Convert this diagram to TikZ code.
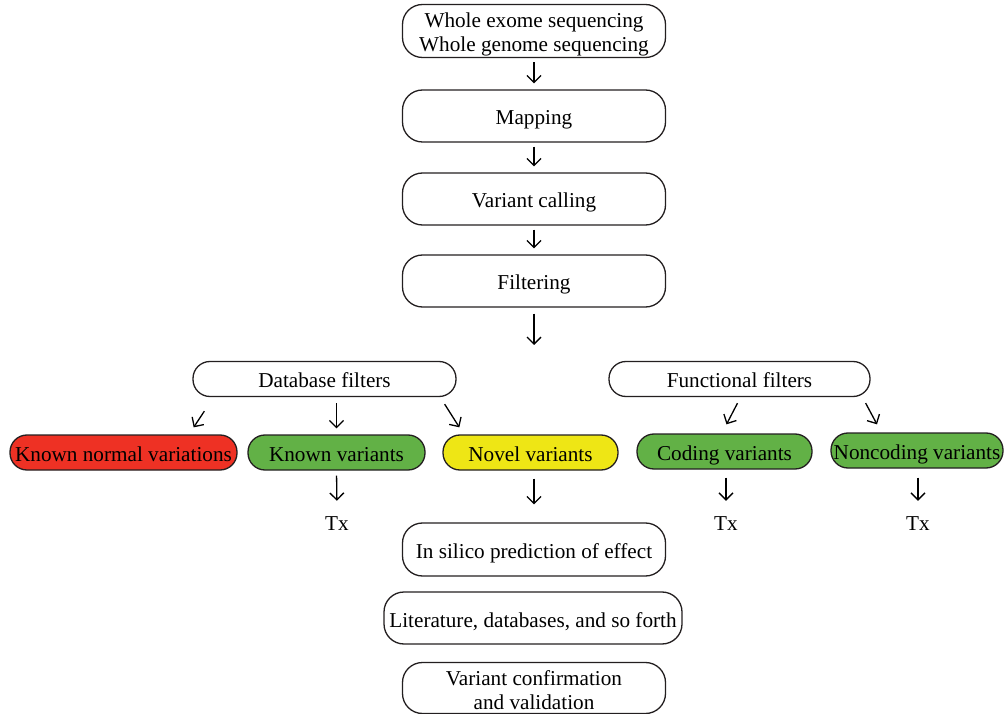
\documentclass[tikz,border=0pt]{standalone}
\usepackage{fontspec}
\setmainfont{Liberation Serif}
\usetikzlibrary{arrows.meta}
\definecolor{redbox}{HTML}{EE3124}
\definecolor{greenbox}{HTML}{62B146}
\definecolor{yellowbox}{HTML}{EEE615}
\definecolor{edge}{HTML}{231F20}
\newcommand{\topstrut}{\rule{0pt}{21pt}}
\newcommand{\botstrut}{\rule[-3pt]{0pt}{3pt}}
\tikzset{
  every node/.style={font=\fontsize{21.2}{24}\selectfont, inner sep=0pt, text=black},
  oneline/.style={text height=21pt, text depth=3pt},
  bigbox/.style={draw=edge, line width=1.3pt, rounded corners=20pt, minimum width=263pt, minimum height=52pt, align=center},
  pill/.style={draw=edge, line width=1.3pt, rounded corners=17pt, minimum height=35pt, align=center, oneline},
  arr/.style={draw=black, line width=1.3pt, -{Straight Barb[length=7pt,width=14pt,line width=1.3pt]}},
  lbl/.style={oneline}
}
\begin{document}
\begin{tikzpicture}[x=1pt,y=-1pt]
\useasboundingbox (0,0) rectangle (1005,714);
% main chain
\node[bigbox, minimum height=53pt] (seq) at (534,31) {\topstrut Whole exome sequencing\\Whole genome sequencing\botstrut};
\node[bigbox, oneline] (map) at (534,116) {Mapping};
\node[bigbox, oneline] (call) at (534,199) {Variant calling};
\node[bigbox, oneline] (filt) at (534,281) {Filtering};
\coordinate (split) at (534,345);
% filters
\node[pill, minimum width=263pt] (db) at (324.5,379) {Database filters};
\node[pill, minimum width=261pt] (fn) at (739.5,379) {Functional filters};
% categories
\node[pill, fill=redbox, minimum width=227pt] (knv) at (123.5,452.5) {Known normal variations};
\node[pill, fill=greenbox, minimum width=177pt] (kv) at (336.5,452.5) {Known variants};
\node[pill, fill=yellowbox, minimum width=175pt] (nv) at (530.5,452.5) {Novel variants};
\node[pill, fill=greenbox, minimum width=175pt] (cv) at (724.5,451.5) {Coding variants};
\node[pill, fill=greenbox, minimum width=172pt] (ncv) at (917,450.5) {Noncoding variants};
% Tx labels
\node[lbl] (tx1) at (337,521) {Tx};
\node[lbl] (tx2) at (726,521) {Tx};
\node[lbl] (tx3) at (918,521) {Tx};
% lower chain
\node[bigbox, oneline, minimum height=53pt] (sil) at (534,549.5) {In silico prediction of effect};
\node[bigbox, oneline, minimum width=298pt] (lit) at (533,618) {Literature, databases, and so forth};
\node[bigbox, minimum height=51pt] (conf) at (534,688) {\topstrut Variant confirmation\\and validation\botstrut};
% arrows main
\draw[arr, shorten <=4pt, shorten >=6pt] (seq) -- (map);
\draw[arr, shorten <=4pt, shorten >=6pt] (map) -- (call);
\draw[arr, shorten <=4pt, shorten >=6pt] (call) -- (filt);
\draw[arr, shorten <=6pt] (filt) -- (split);
% database arrows
\draw[arr] ([xshift=12pt,yshift=-14pt]db.south west) -- ([xshift=-44pt,yshift=7pt]knv.north east);
\draw[arr, shorten <=6pt, shorten >=6pt] (db.south -| kv.north) -- (kv.north);
\draw[arr] ([xshift=-12pt,yshift=-7pt]db.south east) -- ([xshift=17pt,yshift=7pt]nv.north west);
% functional arrows
\draw[arr] ([xshift=-2pt,yshift=-6pt]fn.south) -- ([xshift=2pt,yshift=9pt]cv.north);
\draw[arr] ([xshift=-5pt,yshift=-6pt]fn.south east) -- ([xshift=-40pt,yshift=8pt]ncv.north);
% Tx arrows
\draw[arr, shorten <=5pt, shorten >=8pt] (kv.south) -- (tx1.north);
\draw[arr, shorten <=8pt, shorten >=8pt] (cv.south -| tx2) -- (tx2.north);
\draw[arr, shorten <=9pt, shorten >=8pt] (ncv.south -| tx3) -- (tx3.north);
\draw[arr, shorten <=8pt, shorten >=18pt] (nv.south -| sil.north) -- (sil.north);
\end{tikzpicture}
\end{document}
